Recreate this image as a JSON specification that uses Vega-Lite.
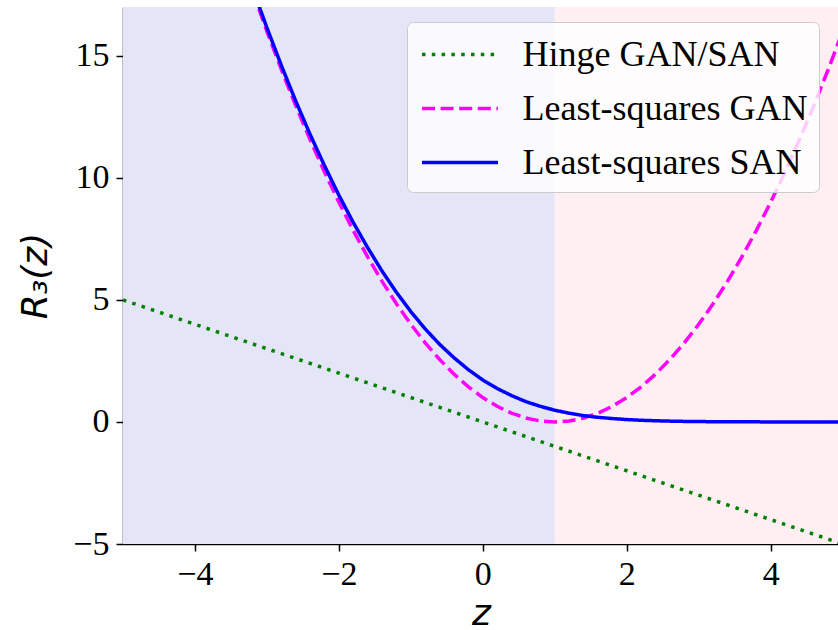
{
  "$schema": "https://vega.github.io/schema/vega-lite/v6.json",
  "width": 716,
  "height": 537,
  "autosize": {"type": "none"},
  "padding": {"left": 123, "top": 7, "right": 0, "bottom": 86},
  "background": "white",
  "datasets": {
    "regions": [
      {"x1": -5, "x2": 1, "region": "D"},
      {"x1": 1, "x2": 5, "region": "G"}
    ],
    "curves": [
      {"z": -5, "r": 5, "s": "Hinge GAN/SAN"},
      {"z": 0, "r": 0, "s": "Hinge GAN/SAN"},
      {"z": 5, "r": -5, "s": "Hinge GAN/SAN"},
      {"z": -3.2, "r": 17.64, "s": "Least-squares GAN"},
      {"z": -3.0, "r": 16, "s": "Least-squares GAN"},
      {"z": -2.8, "r": 14.44, "s": "Least-squares GAN"},
      {"z": -2.6, "r": 12.96, "s": "Least-squares GAN"},
      {"z": -2.4, "r": 11.56, "s": "Least-squares GAN"},
      {"z": -2.2, "r": 10.24, "s": "Least-squares GAN"},
      {"z": -2.0, "r": 9, "s": "Least-squares GAN"},
      {"z": -1.8, "r": 7.84, "s": "Least-squares GAN"},
      {"z": -1.6, "r": 6.76, "s": "Least-squares GAN"},
      {"z": -1.4, "r": 5.76, "s": "Least-squares GAN"},
      {"z": -1.2, "r": 4.84, "s": "Least-squares GAN"},
      {"z": -1.0, "r": 4, "s": "Least-squares GAN"},
      {"z": -0.8, "r": 3.24, "s": "Least-squares GAN"},
      {"z": -0.6, "r": 2.56, "s": "Least-squares GAN"},
      {"z": -0.4, "r": 1.96, "s": "Least-squares GAN"},
      {"z": -0.2, "r": 1.44, "s": "Least-squares GAN"},
      {"z": 0.0, "r": 1, "s": "Least-squares GAN"},
      {"z": 0.2, "r": 0.64, "s": "Least-squares GAN"},
      {"z": 0.4, "r": 0.36, "s": "Least-squares GAN"},
      {"z": 0.6, "r": 0.16, "s": "Least-squares GAN"},
      {"z": 0.8, "r": 0.04, "s": "Least-squares GAN"},
      {"z": 1.0, "r": 0, "s": "Least-squares GAN"},
      {"z": 1.2, "r": 0.04, "s": "Least-squares GAN"},
      {"z": 1.4, "r": 0.16, "s": "Least-squares GAN"},
      {"z": 1.6, "r": 0.36, "s": "Least-squares GAN"},
      {"z": 1.8, "r": 0.64, "s": "Least-squares GAN"},
      {"z": 2.0, "r": 1, "s": "Least-squares GAN"},
      {"z": 2.2, "r": 1.44, "s": "Least-squares GAN"},
      {"z": 2.4, "r": 1.96, "s": "Least-squares GAN"},
      {"z": 2.6, "r": 2.56, "s": "Least-squares GAN"},
      {"z": 2.8, "r": 3.24, "s": "Least-squares GAN"},
      {"z": 3.0, "r": 4, "s": "Least-squares GAN"},
      {"z": 3.2, "r": 4.84, "s": "Least-squares GAN"},
      {"z": 3.4, "r": 5.76, "s": "Least-squares GAN"},
      {"z": 3.6, "r": 6.76, "s": "Least-squares GAN"},
      {"z": 3.8, "r": 7.84, "s": "Least-squares GAN"},
      {"z": 4.0, "r": 9, "s": "Least-squares GAN"},
      {"z": 4.2, "r": 10.24, "s": "Least-squares GAN"},
      {"z": 4.4, "r": 11.56, "s": "Least-squares GAN"},
      {"z": 4.6, "r": 12.96, "s": "Least-squares GAN"},
      {"z": 4.8, "r": 14.44, "s": "Least-squares GAN"},
      {"z": 5.0, "r": 16, "s": "Least-squares GAN"},
      {"z": -3.2, "r": 17.77, "s": "Least-squares SAN"},
      {"z": -3.0, "r": 16.15, "s": "Least-squares SAN"},
      {"z": -2.8, "r": 14.61, "s": "Least-squares SAN"},
      {"z": -2.6, "r": 13.15, "s": "Least-squares SAN"},
      {"z": -2.4, "r": 11.78, "s": "Least-squares SAN"},
      {"z": -2.2, "r": 10.5, "s": "Least-squares SAN"},
      {"z": -2.0, "r": 9.29, "s": "Least-squares SAN"},
      {"z": -1.8, "r": 8.17, "s": "Least-squares SAN"},
      {"z": -1.6, "r": 7.14, "s": "Least-squares SAN"},
      {"z": -1.4, "r": 6.18, "s": "Least-squares SAN"},
      {"z": -1.2, "r": 5.31, "s": "Least-squares SAN"},
      {"z": -1.0, "r": 4.52, "s": "Least-squares SAN"},
      {"z": -0.8, "r": 3.81, "s": "Least-squares SAN"},
      {"z": -0.6, "r": 3.18, "s": "Least-squares SAN"},
      {"z": -0.4, "r": 2.63, "s": "Least-squares SAN"},
      {"z": -0.2, "r": 2.14, "s": "Least-squares SAN"},
      {"z": 0.0, "r": 1.72, "s": "Least-squares SAN"},
      {"z": 0.2, "r": 1.37, "s": "Least-squares SAN"},
      {"z": 0.4, "r": 1.08, "s": "Least-squares SAN"},
      {"z": 0.6, "r": 0.83, "s": "Least-squares SAN"},
      {"z": 0.8, "r": 0.64, "s": "Least-squares SAN"},
      {"z": 1.0, "r": 0.48, "s": "Least-squares SAN"},
      {"z": 1.2, "r": 0.36, "s": "Least-squares SAN"},
      {"z": 1.4, "r": 0.26, "s": "Least-squares SAN"},
      {"z": 1.6, "r": 0.19, "s": "Least-squares SAN"},
      {"z": 1.8, "r": 0.14, "s": "Least-squares SAN"},
      {"z": 2.0, "r": 0.098, "s": "Least-squares SAN"},
      {"z": 2.2, "r": 0.069, "s": "Least-squares SAN"},
      {"z": 2.4, "r": 0.049, "s": "Least-squares SAN"},
      {"z": 2.6, "r": 0.034, "s": "Least-squares SAN"},
      {"z": 2.8, "r": 0.023, "s": "Least-squares SAN"},
      {"z": 3.0, "r": 0.016, "s": "Least-squares SAN"},
      {"z": 3.2, "r": 0.011, "s": "Least-squares SAN"},
      {"z": 3.4, "r": 0.0075, "s": "Least-squares SAN"},
      {"z": 3.6, "r": 0.0051, "s": "Least-squares SAN"},
      {"z": 3.8, "r": 0.0035, "s": "Least-squares SAN"},
      {"z": 4.0, "r": 0.0024, "s": "Least-squares SAN"},
      {"z": 4.4, "r": 0.0011, "s": "Least-squares SAN"},
      {"z": 5.0, "r": 0.0003, "s": "Least-squares SAN"}
    ]
  },
  "layer": [
    {
      "data": {"name": "regions"},
      "transform": [{"filter": "datum.region == 'D'"}],
      "mark": {"type": "rect", "color": "#e5e5f8", "clip": true},
      "encoding": {
        "x": {"field": "x1", "type": "quantitative", "scale": {"domain": [-5, 4.95], "nice": false, "zero": false}},
        "x2": {"field": "x2"}
      }
    },
    {
      "data": {"name": "regions"},
      "transform": [{"filter": "datum.region == 'G'"}],
      "mark": {"type": "rect", "color": "#ffeef2", "clip": true},
      "encoding": {
        "x": {"field": "x1", "type": "quantitative"},
        "x2": {"field": "x2"}
      }
    },
    {
      "data": {"name": "curves"},
      "transform": [{"filter": "datum.s == 'Hinge GAN/SAN'"}],
      "mark": {"type": "line", "strokeWidth": 3.5, "clip": true, "strokeCap": "butt"},
      "encoding": {
        "x": {"field": "z", "type": "quantitative"},
        "y": {"field": "r", "type": "quantitative"},
        "color": {"field": "s", "type": "nominal"},
        "strokeDash": {"field": "s", "type": "nominal"}
      }
    },
    {
      "data": {"name": "curves"},
      "transform": [{"filter": "datum.s == 'Least-squares GAN'"}],
      "mark": {"type": "line", "strokeWidth": 3.5, "clip": true, "strokeCap": "butt"},
      "encoding": {
        "x": {"field": "z", "type": "quantitative"},
        "y": {"field": "r", "type": "quantitative"},
        "color": {"field": "s", "type": "nominal"},
        "strokeDash": {"field": "s", "type": "nominal"}
      }
    },
    {
      "data": {"name": "curves"},
      "transform": [{"filter": "datum.s == 'Least-squares SAN'"}],
      "mark": {"type": "line", "strokeWidth": 3.5, "clip": true, "strokeCap": "butt"},
      "encoding": {
        "x": {"field": "z", "type": "quantitative", "title": "z",
          "axis": {"values": [-4, -2, 0, 2, 4], "format": "d", "labelPadding": 6, "titlePadding": 5, "labelFlush": false, "labelOverlap": false}},
        "y": {"field": "r", "type": "quantitative", "title": "R₃(z)",
          "scale": {"domain": [-5, 17], "nice": false, "zero": false},
          "axis": {"values": [-5, 0, 5, 10, 15], "format": "d", "labelPadding": 7, "titlePadding": 18, "labelFlush": false, "labelOverlap": false}},
        "color": {"field": "s", "type": "nominal",
          "scale": {"domain": ["Hinge GAN/SAN", "Least-squares GAN", "Least-squares SAN"], "range": ["#008000", "#ff00ff", "#0000ff"]},
          "legend": {"orient": "none", "legendX": 284, "legendY": 15, "title": null, "labelExpr": "datum.label + '\u00a0'"}},
        "strokeDash": {"field": "s", "type": "nominal",
          "scale": {"domain": ["Hinge GAN/SAN", "Least-squares GAN", "Least-squares SAN"], "range": [[3.5, 6.3], [13, 5.6], [1, 0]]},
          "legend": {"orient": "none", "legendX": 284, "legendY": 15, "title": null, "labelExpr": "datum.label + '\u00a0'"}}
      }
    },
    {
      "mark": {"type": "rule", "color": "black", "strokeWidth": 1.5},
      "encoding": {"y": {"datum": 17}}
    }
  ],
  "config": {
    "view": {"stroke": null},
    "axis": {
      "domainColor": "black", "domainWidth": 1.5, "tickColor": "black", "tickWidth": 1.5, "tickSize": 7,
      "labelFont": "Liberation Serif", "labelFontSize": 34, "labelColor": "black",
      "titleFont": "DejaVu Sans", "titleFontSize": 36, "titleFontStyle": "italic", "titleFontWeight": "normal", "titleColor": "black",
      "grid": false, "zindex": 1
    },
    "legend": {
      "labelFont": "Liberation Serif", "labelFontSize": 36, "labelColor": "black", "labelLimit": 0,
      "symbolSize": 1444, "symbolStrokeWidth": 3.5, "symbolType": "M-2,0H2", "symbolOffset": 20.5, "labelOffset": 41.5,
      "padding": 11.5, "rowPadding": 15, "fillColor": "rgba(255,255,255,0.8)", "strokeColor": "#cccccc", "cornerRadius": 6
    }
  }
}
